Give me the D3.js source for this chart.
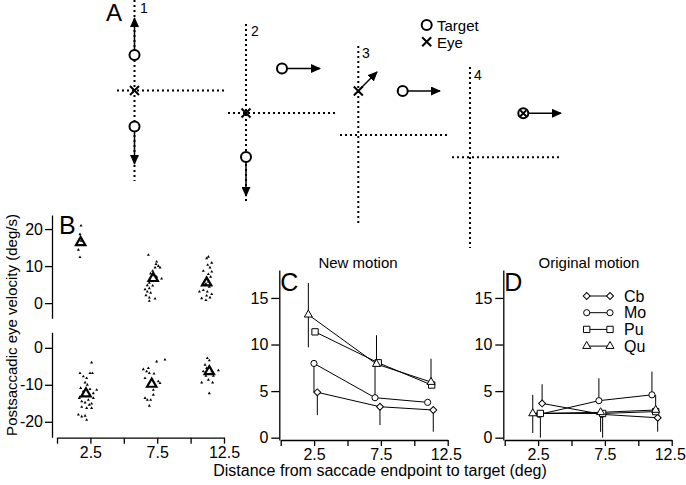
<!DOCTYPE html>
<html><head><meta charset="utf-8">
<script src="https://cdn.jsdelivr.net/npm/d3@7"></script>
<style>
html,body{margin:0;padding:0;background:#fff;}
svg text{font-family:"Liberation Sans",Arial,Helvetica,sans-serif;fill:#000;}
</style></head>
<body><svg id="fig" width="686" height="485"></svg>
<script>
// ---------------- DATA ----------------
const xTickValues = [0, 2.5, 5, 7.5, 10, 12.5];
const xTickLabels = ["2.5", "7.5", "12.5"];
const bUpperTicks = [0, 10, 20];
const bLowerTicks = [-20, -10, 0];
const cdTicks = [0, 5, 10, 15];

// Panel B: individual trials (distance, velocity) and bin means
const bUpperPoints = [
  [1.80,20.9],[1.72,18.6],[1.80,16.8],[1.60,14.4],[1.72,12.4],
  [6.84,13.0],[7.46,11.2],[7.41,10.5],[7.58,10.0],[7.34,9.6],[7.71,9.6],[7.16,8.7],
  [7.01,8.0],[7.28,7.5],[7.46,7.1],[7.83,6.6],[6.96,6.2],[6.91,5.5],[6.76,4.8],
  [7.16,4.7],[6.91,4.0],[6.59,3.7],[6.76,3.1],[7.01,2.8],[6.66,2.1],[6.91,1.5],
  [7.34,1.2],[6.91,0.6],
  [11.33,12.5],[11.20,12.1],[11.58,10.9],[11.28,10.3],[11.45,9.6],[10.95,8.7],
  [11.58,8.5],[11.33,7.8],[11.50,7.1],[11.20,6.4],[11.33,5.8],[11.15,5.2],[11.08,4.9],
  [11.40,4.4],[10.95,3.5],[11.25,3.1],[11.58,2.4],[10.66,3.1],[11.20,2.0],[10.83,1.3],
  [11.45,1.5],[11.15,0.8]
];
const bLowerPoints = [
  [2.59,-4.0],[1.72,-6.85],[2.47,-6.85],[2.65,-6.85],[1.97,-7.75],[2.22,-8.2],
  [2.10,-9.4],[2.27,-10.0],[1.77,-10.9],[2.47,-11.2],[2.97,-11.4],[1.97,-11.8],
  [2.72,-12.3],[1.72,-13.2],[2.35,-14.1],[1.85,-14.5],[2.10,-14.8],[2.59,-15.1],
  [2.42,-15.4],[1.85,-16.0],[2.22,-16.3],[2.59,-16.3],[1.60,-18.1],[1.85,-18.6],
  [2.10,-18.4],[2.22,-19.5],[1.67,-13.6],[2.72,-13.6],
  [8.08,-3.2],[7.46,-3.7],[6.46,-5.8],[6.84,-5.5],[6.91,-6.85],[7.26,-7.0],[6.59,-8.2],
  [7.58,-9.1],[7.71,-9.55],[7.21,-11.4],[6.59,-13.6],[6.76,-14.1],[7.01,-14.1],
  [7.21,-12.7],[6.91,-15.7],[6.71,-6.4],
  [11.25,-2.8],[11.40,-3.4],[11.08,-4.6],[10.95,-6.4],[11.58,-6.4],[12.08,-6.1],
  [11.15,-7.6],[11.70,-7.6],[10.83,-9.4],[11.33,-8.65],[11.65,-9.4],[11.40,-12.3],
  [11.20,-5.5]
];
const bUpperMeans = [[1.77,16.4],[7.20,6.7],[11.20,5.5]];
const bLowerMeans = [[2.17,-12.4],[7.09,-9.8],[11.40,-6.4]];

// Panels C and D: monkeys
const monkeys = ["Cb", "Mo", "Pu", "Qu"];
// New motion (C)
const cX   = {Cb:[2.74,7.43,11.42], Mo:[2.49,7.06,11.00], Pu:[2.57,7.30,11.30], Qu:[2.07,7.17,11.25]};
const cY   = {Cb:[4.87,3.32,2.97],  Mo:[7.97,4.29,3.79],  Pu:[11.36,8.04,5.65], Qu:[13.2,7.9,5.97]};
const cLo  = {Cb:[2.45,1.96,2.33],  Mo:[3.1,0,0],         Pu:[0,0,0],           Qu:[3.5,0,0]};
const cHi  = {Cb:[0,0,0],           Mo:[0,3.6,0],         Pu:[0,0,0],           Qu:[3.4,3.1,2.5]};
// Original motion (D)
const dX   = {Cb:[2.80,7.30,11.45], Mo:[2.60,7.05,11.02], Pu:[2.67,7.33,11.30], Qu:[2.10,7.18,11.30]};
const dY   = {Cb:[3.68,2.50,2.14],  Mo:[2.50,3.97,4.60],  Pu:[2.60,2.60,2.80],  Qu:[2.60,2.72,2.97]};
const dLo  = {Cb:[0,0,1.5],         Mo:[0,0,0],           Pu:[2.6,2.6,0],       Qu:[2.1,2.1,0]};
const dHi  = {Cb:[2.05,0,0],        Mo:[0,2.4,2.5],       Pu:[0,0,0],           Qu:[2.0,0,1.6]};

// ---------------- DRAW ----------------
const svg = d3.select("#fig");
const FS = 16;

function styleAxis(g, fs) {
  g.selectAll("path.domain").attr("stroke","#000").attr("stroke-width",1.3);
  g.selectAll(".tick line").attr("stroke","#000").attr("stroke-width",1.3);
  g.selectAll(".tick text").attr("font-size",fs).attr("font-family",'"Liberation Sans",Arial,sans-serif').attr("fill","#000");
}
const xFmt = d => xTickLabels.includes(String(d)) ? String(d) : "";

// ---- Panel A (schematic) ----
const defs = svg.append("defs");
defs.append("marker").attr("id","ah").attr("viewBox","0 0 10 9").attr("refX",9).attr("refY",4.5)
  .attr("markerWidth",10).attr("markerHeight",9).attr("markerUnits","userSpaceOnUse").attr("orient","auto")
  .append("path").attr("d","M0,0L10,4.5L0,9Z").attr("fill","#000");
const A = svg.append("g");
function dotted(x1,y1,x2,y2){ A.append("line").attr("x1",x1).attr("y1",y1).attr("x2",x2).attr("y2",y2)
  .attr("stroke","#000").attr("stroke-width",2).attr("stroke-dasharray","2,3"); }
function arrow(x1,y1,x2,y2){ A.append("line").attr("x1",x1).attr("y1",y1).attr("x2",x2).attr("y2",y2)
  .attr("stroke","#000").attr("stroke-width",1.5).attr("marker-end","url(#ah)"); }
function targ(x,y){ A.append("circle").attr("cx",x).attr("cy",y).attr("r",5).attr("fill","#fff").attr("stroke","#000").attr("stroke-width",2); }
function eye(x,y,s=4.5){ A.append("path").attr("d",`M${x-s},${y-s}L${x+s},${y+s}M${x-s},${y+s}L${x+s},${y-s}`)
  .attr("stroke","#000").attr("stroke-width",2).attr("fill","none"); }
function lab(x,y,t,fs){ A.append("text").attr("x",x).attr("y",y).attr("font-size",fs).text(t); }

lab(106,21,"A",24);
// 1
dotted(134.5,0,134.5,181); dotted(117,90.5,224,90.5);
arrow(134.5,50,134.5,18); arrow(134.5,131,134.5,164);
targ(134.5,55); targ(134.5,126.5); eye(134.5,90.5);
lab(140,13,"1",14);
// 2
dotted(246,24,246,201); dotted(228,113,336,113);
arrow(246,162,246,196); targ(246,157); eye(246,113);
targ(282,68.5); arrow(287,68.5,320,68.5);
lab(251,36,"2",14);
// 3
dotted(358.3,46,358.3,226); dotted(340,135,448,135);
eye(358.3,91); arrow(361,88,377,72);
targ(402.7,91); arrow(407.7,91,440,91);
lab(362,58,"3",14);
// 4
dotted(470,67,470,248); dotted(452,157.3,560,157.3);
targ(523.3,113.3); eye(523.3,113.3,3.2); arrow(528.3,113.3,561,113.3);
lab(474,80,"4",14);
// legend
targ(426.7,25); lab(437,31,"Target",15);
eye(426.7,41.7); lab(437,47.5,"Eye",15);

// ---- Panel B ----
const xB = d3.scaleLinear().domain([0,12.5]).range([57,224]);
const yBu = d3.scaleLinear().domain([-4.1,23.8]).range([318.3,215]);
const yBl = d3.scaleLinear().domain([-24.2,4.2]).range([437.3,332.3]);
const gB = svg.append("g");
gB.append("g").attr("transform","translate(52,0)")
  .call(d3.axisLeft(yBu).tickValues(bUpperTicks).tickFormat(d=>String(d)).tickSize(7).tickSizeOuter(0).tickPadding(2))
  .call(g=>styleAxis(g,FS));
gB.append("g").attr("transform","translate(52,0)")
  .call(d3.axisLeft(yBl).tickValues(bLowerTicks).tickFormat(d=>String(d)).tickSize(7).tickSizeOuter(0).tickPadding(2))
  .call(g=>styleAxis(g,FS));
gB.append("g").attr("transform","translate(0,437.7)")
  .call(d3.axisBottom(xB).tickValues(xTickValues).tickFormat(xFmt).tickSize(6).tickSizeOuter(0).tickPadding(3))
  .call(g=>styleAxis(g,FS));
const smallTri = d3.symbol().type(d3.symbolTriangle).size(4)();
const bigTri = d3.symbol().type(d3.symbolTriangle).size(38)();
function scatter(pts, ys){
  gB.append("g").selectAll("path").data(pts).join("path")
    .attr("d",smallTri).attr("transform",d=>`translate(${xB(d[0])},${ys(d[1])})`).attr("fill","#000");
}
scatter(bUpperPoints,yBu); scatter(bLowerPoints,yBl);
function means(pts, ys){
  gB.append("g").selectAll("path").data(pts).join("path")
    .attr("d",bigTri).attr("transform",d=>`translate(${xB(d[0])},${ys(d[1])})`)
    .attr("fill","none").attr("stroke","#000").attr("stroke-width",2.2);
}
means(bUpperMeans,yBu); means(bLowerMeans,yBl);
svg.append("text").attr("x",59).attr("y",234).attr("font-size",25).text("B");

// ---- Panels C & D ----
const symbols = {
  Cb: d3.symbol().type(d3.symbolSquare).size(24)(),
  Mo: d3.symbol().type(d3.symbolCircle).size(30)(),
  Pu: d3.symbol().type(d3.symbolSquare).size(40)(),
  Qu: d3.symbol().type(d3.symbolTriangle).size(28)()
};
const rot = {Cb:45, Mo:0, Pu:0, Qu:0};
function panel(x0, x1, X, Y, LO, HI, title, titleX, letter){
  const xs = d3.scaleLinear().domain([0,12.5]).range([x0+1.4, x1]);
  const ys = d3.scaleLinear().domain([-0.25,18]).range([440,270]);
  const g = svg.append("g");
  g.append("g").attr("transform",`translate(${x0},0)`)
    .call(d3.axisLeft(ys).tickValues(cdTicks).tickFormat(d=>String(d)).tickSize(8).tickSizeOuter(0).tickPadding(3))
    .call(a=>styleAxis(a,FS));
  g.append("g").attr("transform","translate(0,440)")
    .call(d3.axisBottom(xs).tickValues(xTickValues).tickFormat(xFmt).tickSize(6).tickSizeOuter(0).tickPadding(3))
    .call(a=>styleAxis(a,FS))
    .call(a=>a.selectAll(".tick text").filter(d=>d===12.5).attr("dx",-2));
  const line = d3.line().x(d=>xs(d[0])).y(d=>ys(d[1]));
  monkeys.forEach(m=>{
    const pts = X[m].map((x,i)=>[x,Y[m][i]]);
    g.append("path").attr("d",line(pts)).attr("fill","none").attr("stroke","#000").attr("stroke-width",1);
  });
  monkeys.forEach(m=>{
    X[m].forEach((x,i)=>{
      const y = Y[m][i];
      if (LO[m][i]>0) g.append("line").attr("x1",xs(x)).attr("x2",xs(x)).attr("y1",ys(y)).attr("y2",ys(Math.max(y-LO[m][i],-0.25))).attr("stroke","#000").attr("stroke-width",1);
      if (HI[m][i]>0) g.append("line").attr("x1",xs(x)).attr("x2",xs(x)).attr("y1",ys(y)).attr("y2",ys(y+HI[m][i])).attr("stroke","#000").attr("stroke-width",1);
    });
  });
  monkeys.forEach(m=>{
    X[m].forEach((x,i)=>{
      g.append("path").attr("d",symbols[m]).attr("transform",`translate(${xs(x)},${ys(Y[m][i])}) rotate(${rot[m]})`)
        .attr("fill","#fff").attr("stroke","#000").attr("stroke-width",1);
    });
  });
  g.append("text").attr("x",titleX).attr("y",268).attr("text-anchor","middle").attr("font-size",15).text(title);
  g.append("text").attr("x",x0+1).attr("y",291).attr("font-size",25).text(letter);
  return g;
}
panel(279.3, 447.7, cX, cY, cLo, cHi, "New motion", 358, "C");
const gD = panel(503.3, 671.7, dX, dY, dLo, dHi, "Original motion", 589, "D");

// legend in D
monkeys.forEach((m,i)=>{
  const y = 296 + i*16.7;
  gD.append("line").attr("x1",586.7).attr("x2",610).attr("y1",y).attr("y2",y).attr("stroke","#000").attr("stroke-width",1);
  [586.7,610].forEach(x=>gD.append("path").attr("d",symbols[m]).attr("transform",`translate(${x},${y}) rotate(${rot[m]})`)
    .attr("fill","#fff").attr("stroke","#000").attr("stroke-width",1));
  gD.append("text").attr("x",624).attr("y",y+5.5).attr("font-size",FS).text(m);
});

// axis titles
svg.append("text").attr("transform","translate(17,325) rotate(-90)").attr("text-anchor","middle").attr("font-size",15)
  .text("Postsaccadic eye velocity (deg/s)");
svg.append("text").attr("x",380).attr("y",476).attr("text-anchor","middle").attr("font-size",16)
  .text("Distance from saccade endpoint to target (deg)");
</script></body></html>
